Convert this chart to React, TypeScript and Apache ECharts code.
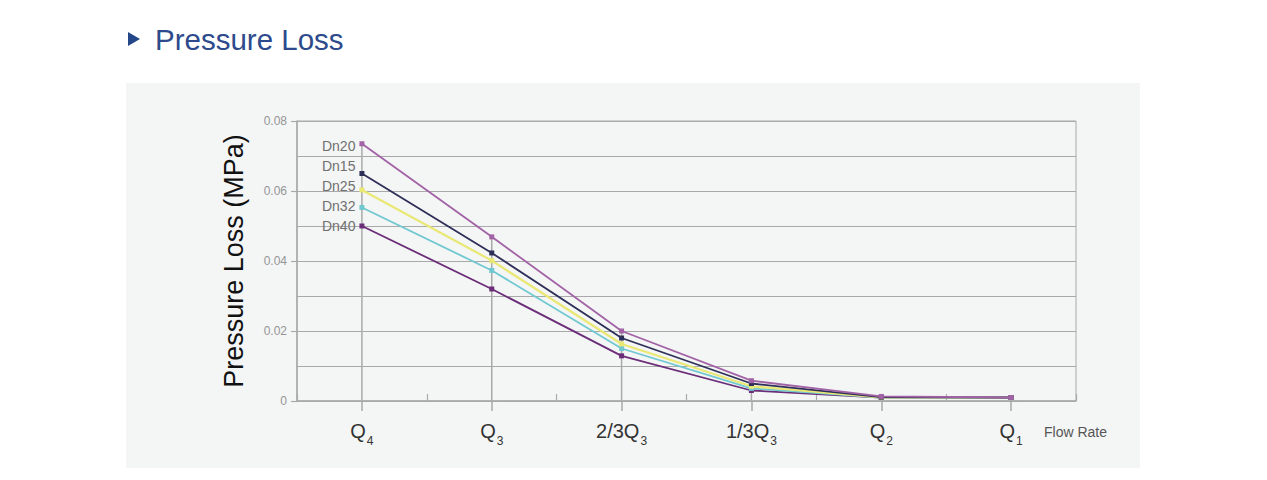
import React, { useEffect, useRef } from "react";
import * as echarts from "echarts";

const categories = ["Q|4", "Q|3", "2/3Q|3", "1/3Q|3", "Q|2", "Q|1"];
const yTicks = [0, 0.02, 0.04, 0.06, 0.08];

const seriesNames = ["Dn20", "Dn15", "Dn25", "Dn32", "Dn40"];
const dn20 = [0.0735, 0.0469, 0.02, 0.0058, 0.0013, 0.001];
const dn15 = [0.065, 0.0423, 0.018, 0.005, 0.0011, 0.001];
const dn25 = [0.0603, 0.0401, 0.0163, 0.0042, 0.001, 0.001];
const dn32 = [0.0553, 0.0373, 0.015, 0.0036, 0.001, 0.001];
const dn40 = [0.05, 0.032, 0.0129, 0.003, 0.001, 0.001];
const seriesData = [dn20, dn15, dn25, dn32, dn40];
const seriesColors = ["#a263a6", "#2e2f58", "#e9e874", "#70c8d1", "#6b2d78"];
const labelOffsets = [[0, 2], [0, -8], [0, -4], [0, -1], [0, 0]];

const FONT = "Liberation Sans, Arial, sans-serif";

export default function App() {
  const ref = useRef<HTMLDivElement>(null);
  useEffect(() => {
    if (!ref.current) return;
    const chart = echarts.init(ref.current, undefined, { renderer: "svg" });
    const dropValues = categories.map((_, i) => Math.max(...seriesData.map((s) => s[i])));
    const lineSeries = seriesNames.map((name, k) => ({
      name,
      type: "line",
      data: seriesData[k].map((v, i) =>
        i === 0
          ? {
              value: v,
              label: {
                show: true,
                position: "left",
                distance: 4,
                offset: labelOffsets[k],
                formatter: name,
                color: "#707070",
                fontSize: 14,
                fontFamily: FONT,
              },
            }
          : v
      ),
      symbol: "rect",
      symbolSize: 5,
      showSymbol: true,
      lineStyle: { color: seriesColors[k], width: k === 2 ? 2.2 : 1.8 },
      itemStyle: { color: seriesColors[k] },
      z: k === 0 ? 10 : 9 - k,
      xAxisIndex: 0,
      yAxisIndex: 0,
    }));

    chart.setOption({
      animation: false,
      backgroundColor: "#ffffff",
      textStyle: { fontFamily: FONT },
      graphic: [
        {
          type: "rect",
          shape: { x: 126, y: 83, width: 1014, height: 385 },
          style: { fill: "#f4f5f5" },
          z: -10,
        },
        {
          type: "polygon",
          shape: { points: [[128, 32], [128, 46], [140, 39]] },
          style: { fill: "#24478a" },
        },
        {
          type: "text",
          x: 155,
          y: 39,
          style: {
            text: "Pressure Loss",
            fill: "#2d4a8c",
            fontSize: 29.5,
            fontFamily: FONT,
            verticalAlign: "middle",
          },
        },
      ],
      grid: {
        left: 297,
        right: 191,
        top: 121,
        bottom: 79,
        show: true,
        borderColor: "#a9a9a9",
        borderWidth: 1,
        backgroundColor: "transparent",
      },
      xAxis: [
        {
          type: "category",
          data: categories,
          boundaryGap: true,
          name: "Flow Rate",
          nameLocation: "end",
          nameGap: -32,
          nameTextStyle: {
            color: "#555",
            fontSize: 14,
            verticalAlign: "top",
            padding: [24, 0, 0, 0],
          },
          axisLine: { show: true, lineStyle: { color: "#a9a9a9", width: 1.5 } },
          axisTick: { show: true, alignWithLabel: true, length: 10, lineStyle: { color: "#a9a9a9", width: 1.5 } },
          axisLabel: {
            margin: 14,
            formatter: (v: string) => {
              const [a, b] = v.split("|");
              return `{a|${a}}{s|${b}}`;
            },
            rich: {
              a: { fontSize: 20, color: "#333", fontFamily: FONT },
              s: { fontSize: 12, color: "#333", padding: [20, 0, 0, 1], fontFamily: FONT },
            },
          },
          splitLine: { show: false },
        },
        {
          type: "category",
          data: categories,
          boundaryGap: true,
          position: "bottom",
          axisLine: { show: false },
          axisTick: { show: true, inside: true, length: 7, lineStyle: { color: "#a9a9a9", width: 1.2 } },
          axisLabel: { show: false },
          splitLine: { show: false },
        },
      ],
      yAxis: [
        {
          type: "value",
          min: 0,
          max: 0.08,
          interval: 0.01,
          name: "Pressure Loss (MPa)",
          nameLocation: "middle",
          nameGap: 50,
          nameTextStyle: { color: "#111", fontSize: 27 },
          axisLine: { show: true, lineStyle: { color: "#a9a9a9", width: 1.5 } },
          axisTick: { show: false },
          axisLabel: {
            customValues: yTicks,
            color: "#959595",
            fontSize: 12,
            margin: 10,
            formatter: (v: number) => (v === 0 ? "0" : v.toFixed(2)),
          },
          splitLine: { show: true, lineStyle: { color: "#a9a9a9", width: 1.2 } },
        },
        {
          type: "value",
          min: 0,
          max: 0.08,
          interval: 0.01,
          position: "left",
          axisLine: { show: false },
          axisTick: { show: true, length: 6, customValues: yTicks, lineStyle: { color: "#a9a9a9", width: 1.2 } },
          axisLabel: { show: false },
          splitLine: { show: false },
        },
      ],
      series: [
        {
          name: "drop",
          type: "bar",
          data: dropValues,
          barWidth: 1.5,
          itemStyle: { color: "#a9a9a9" },
          silent: true,
          z: 1,
        },
        ...lineSeries,
      ],
    });
    return () => chart.dispose();
  }, []);
  return (
    <div
      ref={ref}
      style={{ position: "fixed", left: 0, top: 0, width: 1267, height: 480 }}
    />
  );
}
